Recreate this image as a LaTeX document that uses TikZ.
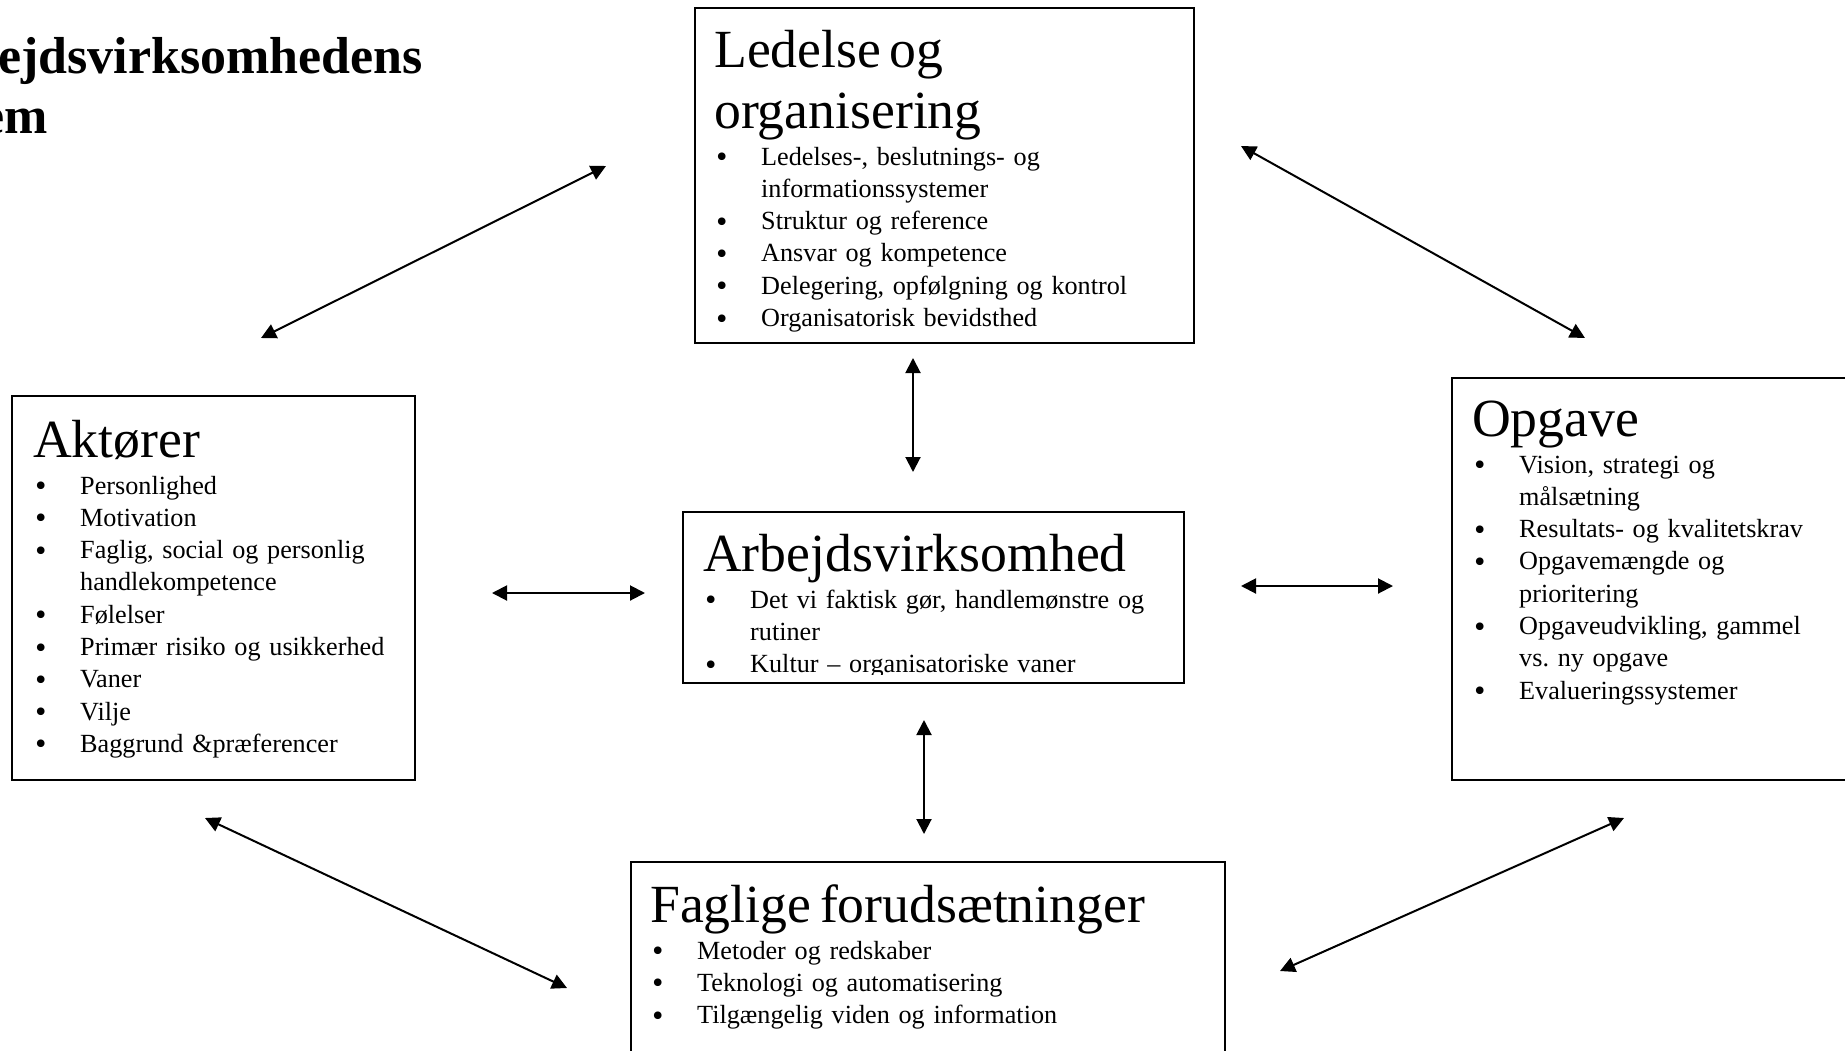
\documentclass[tikz,border=0pt]{standalone}
\usepackage{fontspec}
\setmainfont{Liberation Serif}
\newfontfamily\bulletfont{DejaVu Sans}
\usetikzlibrary{arrows.meta}
\newcommand{\boxhead}[1]{{\fontsize{53.7pt}{61pt}\selectfont #1\par}\vspace{4.7pt}}
\newcommand{\bpoint}[1]{\par\hangindent=47pt\hangafter=1\noindent\makebox[47pt][l]{\raisebox{-1.5pt}{\bulletfont •}}#1}
\tikzset{
  block/.style={
    rectangle,
    draw=black,
    line width=1.6pt,
    anchor=north west,
    inner sep=0pt
  },
  blocktext/.style={
    anchor=base west,
    inner sep=0pt,
    align=left,
    font=\fontsize{26.2pt}{32.3pt}\selectfont
  },
  titletext/.style={
    anchor=base east,
    inner sep=0pt,
    font=\bfseries\fontsize{52pt}{60pt}\selectfont
  },
  arrow/.style={
    {Triangle[length=15pt,width=15pt]}-{Triangle[length=15pt,width=15pt]},
    line width=2pt,
    draw=black
  }
}

\begin{document}
\begin{tikzpicture}[x=1pt,y=-1pt]
  \useasboundingbox (0,0) rectangle (1845,1050);
  \clip (0,0) rectangle (1845,1050);

  \node[titletext] (titlea) at (423,73) {ejdsvirksomhedens};
  \node[titletext] (titleb) at (48,133) {em};

  \node[block, minimum width=499pt, minimum height=335pt] (ledelse) at (694,7) {};
  \node[block, minimum width=403pt, minimum height=384pt] (aktorer) at (11,395) {};
  \node[block, minimum width=501pt, minimum height=171pt] (arb) at (682,511) {};
  \node[block, minimum width=420pt, minimum height=402pt] (opgave) at (1451,377) {};
  \node[block, minimum width=594pt, minimum height=220pt] (faglige) at (630,861) {};

  \node[blocktext, text width=465pt] (ledelsetext) at (714,67) {\boxhead{Ledelse og\\organisering}%
    \bpoint{Ledelses-, beslutnings- og\newline informationssystemer}
    \bpoint{Struktur og reference}
    \bpoint{Ansvar og kompetence}
    \bpoint{Delegering, opfølgning og kontrol}
    \bpoint{Organisatorisk bevidsthed}};
  \node[blocktext, text width=375pt] (aktorertext) at (33,457) {\boxhead{Aktører}%
    \bpoint{Personlighed}
    \bpoint{Motivation}
    \bpoint{Faglig, social og personlig\newline handlekompetence}
    \bpoint{Følelser}
    \bpoint{Primær risiko og usikkerhed}
    \bpoint{Vaner}
    \bpoint{Vilje}
    \bpoint{Baggrund \&præferencer}};
  \begin{scope}
    \clip ([yshift=9pt]arb.south west) rectangle (arb.north east);
    \node[blocktext, text width=470pt] (arbtext) at (703,571) {\boxhead{Arbejdsvirksomhed}%
      \bpoint{Det vi faktisk gør, handlemønstre og\newline rutiner}
      \bpoint{Kultur – organisatoriske vaner}};
  \end{scope}
  \node[blocktext, text width=380pt] (opgavetext) at (1472,436) {\boxhead{Opgave}%
    \bpoint{Vision, strategi og\newline målsætning}
    \bpoint{Resultats- og kvalitetskrav}
    \bpoint{Opgavemængde og\newline prioritering}
    \bpoint{Opgaveudvikling, gammel\newline vs.\ ny opgave}
    \bpoint{Evalueringssystemer}};
  \node[blocktext, text width=560pt] (fagligetext) at (650,922) {\boxhead{Faglige forudsætninger}%
    \bpoint{Metoder og redskaber}
    \bpoint{Teknologi og automatisering}
    \bpoint{Tilgængelig viden og information}};

  % arrow ends
  \coordinate (ledakt1) at (606,166);
  \coordinate (ledakt2) at (261,338);
  \coordinate (ledopg1) at (1241,146);
  \coordinate (ledopg2) at (1585,338);
  \coordinate (ledarb1) at (913,358);
  \coordinate (ledarb2) at (913,472);
  \coordinate (aktarb1) at (492,593);
  \coordinate (aktarb2) at (645,593);
  \coordinate (arbopg1) at (1241,586);
  \coordinate (arbopg2) at (1393,586);
  \coordinate (arbfag1) at (924,720);
  \coordinate (arbfag2) at (924,834);
  \coordinate (aktfag1) at (205,818);
  \coordinate (aktfag2) at (567,988);
  \coordinate (opgfag1) at (1624,818);
  \coordinate (opgfag2) at (1280,971);

  \draw[arrow] (ledakt1) -- (ledakt2);
  \draw[arrow] (ledopg1) -- (ledopg2);
  \draw[arrow] (ledarb1) -- (ledarb2);
  \draw[arrow] (aktarb1) -- (aktarb2);
  \draw[arrow] (arbopg1) -- (arbopg2);
  \draw[arrow] (arbfag1) -- (arbfag2);
  \draw[arrow] (aktfag1) -- (aktfag2);
  \draw[arrow] (opgfag1) -- (opgfag2);
\end{tikzpicture}
\end{document}
